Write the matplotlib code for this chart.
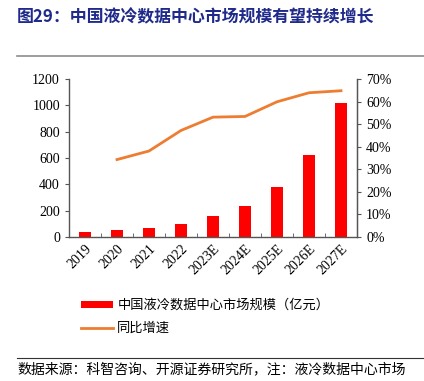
import matplotlib
matplotlib.use('Agg')
import matplotlib.pyplot as plt
from matplotlib.ticker import FuncFormatter

years = ['2019', '2020', '2021', '2022', '2023E', '2024E', '2025E', '2026E', '2027E']
market_size = [36, 51, 71, 102, 157, 236, 379, 620, 1019]   # 亿元
growth = [None, 34.3, 38.1, 47.2, 53.1, 53.4, 59.9, 63.9, 64.8]  # %

cjk = ['Noto Sans CJK SC', 'DejaVu Sans']
serif = ['Liberation Serif', 'DejaVu Serif']

fig = plt.figure(figsize=(4.24, 3.81), dpi=100)
ax = fig.add_axes([69/424, 1 - 237/381, 288/424, 158/381])

x = list(range(len(years)))
bars = ax.bar(x, market_size, width=0.4, color='#ff0000', zorder=2)
ax.set_xlim(-0.5, len(years) - 0.5)
ax.set_ylim(0, 1200)
ax.set_yticks(range(0, 1201, 200))
ax.set_xticks(x)
ax.set_xticklabels(years, rotation=45, ha='right', rotation_mode='anchor',
                   family=serif, fontsize=10)
ax.tick_params(axis='x', length=0, pad=4)
# tick marks between categories
ax.set_xticks([i + 0.5 for i in x[:-1]], minor=True)
ax.tick_params(axis='x', which='minor', direction='in', length=3, color='#555555')
ax.tick_params(axis='y', direction='out', length=3, color='#555555')
for lab in ax.get_yticklabels():
    lab.set_family(serif)
    lab.set_fontsize(10)
ax.spines['top'].set_visible(False)
for s in ['left', 'bottom', 'right']:
    ax.spines[s].set_color('#555555')
    ax.spines[s].set_linewidth(1)

ax2 = ax.twinx()
gx = [i for i, g in zip(x, growth) if g is not None]
gy = [g for g in growth if g is not None]
line, = ax2.plot(gx, gy, color='#ed7d31', linewidth=2)
ax2.set_ylim(0, 70)
ax2.set_yticks(range(0, 71, 10))
ax2.yaxis.set_major_formatter(FuncFormatter(lambda v, p: '%d%%' % v))
ax2.tick_params(axis='y', direction='out', length=3, color='#555555')
for lab in ax2.get_yticklabels():
    lab.set_family(serif)
    lab.set_fontsize(10)
ax2.spines['top'].set_visible(False)
ax2.spines['right'].set_color('#555555')
ax2.spines['left'].set_visible(False)
ax2.spines['bottom'].set_visible(False)

fig.legend([bars, line], ['中国液冷数据中心市场规模（亿元）', '同比增速'],
           loc='upper left', bbox_to_anchor=(81/424, 1 - 299/381), frameon=False,
           prop={'family': cjk, 'size': 9.5}, handlelength=2.4, handleheight=0.5,
           labelspacing=0.75, handletextpad=0.35, borderpad=0, borderaxespad=0)

fig.text(17/424, 1 - 17/381, '图29：中国液冷数据中心市场规模有望持续增长', family=cjk,
         fontsize=12.2, fontweight='bold', color='#1f2a8a', va='center')
fig.add_artist(plt.Line2D([17/424, 1], [1 - 56/381, 1 - 56/381], color='#8c8c8c', linewidth=1.2))
fig.add_artist(plt.Line2D([17/424, 1], [1 - 358/381, 1 - 358/381], color='#333333', linewidth=0.8))
fig.text(17/424, 1 - 369/381, '数据来源：科智咨询、开源证券研究所，注：液冷数据中心市场', family=cjk,
         fontsize=10, color='black', va='center')

fig.savefig('out.png', dpi=100)
